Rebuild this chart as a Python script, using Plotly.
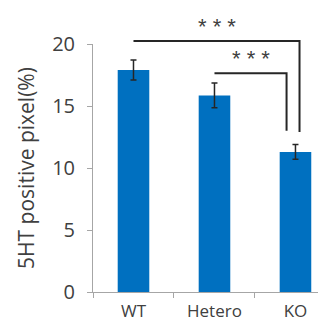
import plotly.graph_objects as go

categories = ["WT", "Hetero", "KO"]
values = [17.9, 15.85, 11.3]
errors = [0.8, 1.0, 0.6]
y_ticks = [0, 5, 10, 15, 20]

# significance brackets: (from category index, to category index, bracket height, drop-to height, label)
brackets = [
    (0, 2, 20.25, 12.9, "* * *"),
    (1, 2, 17.65, 13.0, "* * *"),
]

YMAX = 20
fig = go.Figure()
fig.add_trace(go.Bar(
    x=categories, y=values,
    marker=dict(color="#0070C0", line=dict(width=0)),
    width=0.39,
    error_y=dict(type="data", array=errors, visible=True, color="#262626", thickness=1.5, width=3),
))

shapes = []
annotations = []
for (i, j, h, drop, lab), off in zip(brackets, [0.05, -0.11]):
    xj = j + off
    shapes.append(dict(type="path", xref="x", yref="paper",
                       path=f"M {i},{h/YMAX} L {xj},{h/YMAX} L {xj},{drop/YMAX}",
                       line=dict(color="#262626", width=2)))
    annotations.append(dict(x=(i + xj) / 2, y=(h + 1.2) / YMAX, xref="x", yref="paper",
                            text=lab, showarrow=False, yanchor="middle",
                            font=dict(size=22, color="#404040", family="Liberation Sans")))

fig.update_layout(
    width=318, height=317,
    margin=dict(l=85, r=0, t=36, b=33),
    paper_bgcolor="white", plot_bgcolor="white",
    showlegend=False,
    shapes=shapes, annotations=annotations,
    font=dict(family="Open Sans", color="#404040"),
)
fig.update_xaxes(
    type="category", range=[-0.5, 2.377], automargin=False,
    showline=True, linecolor="#a6a6a6", linewidth=1,
    ticks="outside", tickson="boundaries", ticklen=5, tickcolor="#a6a6a6",
    tickfont=dict(size=17, color="#404040"), ticklabelstandoff=4,
    showgrid=False,
)
fig.update_yaxes(
    range=[0, YMAX], tickvals=y_ticks, automargin=False,
    showline=True, linecolor="#a6a6a6", linewidth=1,
    ticks="outside", ticklen=5, tickcolor="#a6a6a6",
    tickfont=dict(size=20, color="#404040"), ticklabelstandoff=8,
    showgrid=False, zeroline=False,
    title=dict(text="5HT positive pixel(%)", font=dict(size=21, color="#404040"), standoff=11),
)
fig.write_html("out.html")
